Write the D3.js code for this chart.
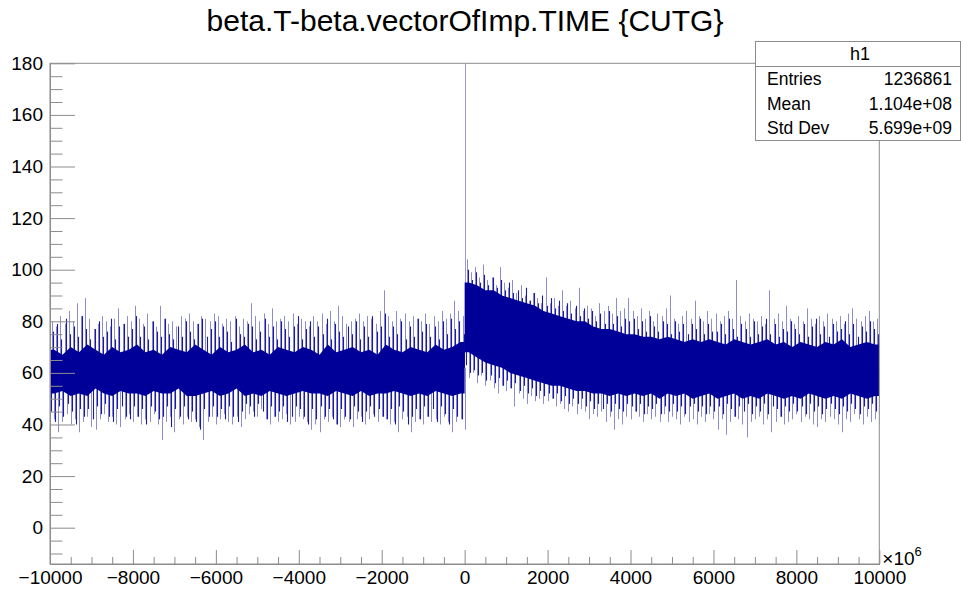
<!DOCTYPE html>
<html>
<head>
<meta charset="utf-8">
<script src="https://cdn.jsdelivr.net/npm/d3@7"></script>
<style>
  html, body { margin: 0; padding: 0; background: #fff; }
  svg { display: block; font-family: "Liberation Sans", Arial, Helvetica, sans-serif; }
</style>
</head>
<body>
<svg id="chart" width="961" height="594"></svg>
<script>
// Histogram h1: beta.T - beta.vectorOfImp.TIME (x in units of 1e6)
const title = "beta.T-beta.vectorOfImp.TIME {CUTG}";
const statsName = "h1";
const statsLabels = ["Entries", "Mean", "Std Dev"];
const statsValues = ["1236861", "1.104e+08", "5.699e+09"];

const xTickLabels = [-10000, -8000, -6000, -4000, -2000, 0, 2000, 4000, 6000, 8000, 10000];
const yTickLabels = [0, 20, 40, 60, 80, 100, 120, 140, 160, 180];

// Largest bin excursions per 100-unit slice (upper and lower)
const peakHi = [
  80,78,82,79,84,80,87,82,89,81, 77,79,82,80,78,81,85,79,82,80,
  86,81,79,83,80,78,86,81,79,80, 78,82,81,83,80,79,82,81,80,83,
  82,79,81,80,82,78,81,80,87,82, 80,83,79,85,80,81,82,80,83,79,
  81,80,78,82,80,83,79,84,80,86, 82,79,80,81,83,80,82,81,79,84,
  92,82,80,84,81,83,80,82,81,80, 83,79,82,80,84,81,83,88,84,82,
  104,99,101,97,102,96,97,94,101,95, 93,96,91,94,90,88,91,89,87,97,
  87,89,86,92,86,88,85,93,84,86, 85,82,87,84,86,83,89,84,85,89,
  84,82,85,81,84,80,83,82,85,90, 81,79,82,84,81,88,82,80,84,81,
  83,80,82,84,81,96,82,80,83,81, 80,82,79,92,81,83,80,86,81,79,
  82,80,85,81,79,82,80,83,81,80, 82,79,83,85,81,80,82,84,80,81
];
const peakLo = [
  42,37,41,44,40,42,37,41,43,39, 38,42,44,41,43,40,39,42,44,41,
  43,40,42,41,44,40,34,41,43,37, 42,40,43,41,42,39,34,41,43,40,
  42,44,41,40,43,39,42,44,45,43, 46,42,40,43,41,42,44,40,41,43,
  42,41,38,40,37,42,41,43,40,39, 42,41,39,42,43,40,42,44,41,43,
  42,40,41,37,42,43,37,41,42,40, 43,41,42,40,43,41,37,41,42,38,
  58,60,56,59,55,57,54,52,55,53, 54,47,52,50,48,51,49,50,48,49,
  50,47,48,46,45,47,44,46,45,42, 44,43,45,41,43,38,42,40,43,42,
  45,43,41,44,42,43,41,44,41,43, 42,40,43,41,42,40,43,41,44,42,
  38,42,36,41,43,42,40,35,41,42, 43,40,42,37,41,43,40,41,42,44,
  41,43,42,40,39,42,41,43,42,40, 37,42,41,44,42,40,43,41,42,40
];

// Typical (frequent) bin excursions per 100-unit slice
const midHi = [
  76,79,73,81,75,78,74,82,77,73, 77,80,74,76,81,73,78,79,74,77,
  82,74,78,73,80,76,74,81,75,73, 78,74,80,76,73,79,81,74,77,80,
  74,78,76,72,81,75,74,79,78,73, 76,81,74,78,73,80,77,74,78,82,
  73,77,80,74,78,75,81,73,79,76, 74,78,75,80,73,78,74,82,76,78,
  83,74,78,75,80,73,78,74,81,76, 79,74,78,73,80,75,81,77,80,75,
  100,96,99,95,98,94,97,93,96,92, 95,91,92,89,93,88,91,87,90,86,
  89,85,88,84,87,83,86,82,85,81, 84,80,83,79,84,79,82,78,81,80,
  81,77,80,76,82,78,76,80,79,75, 80,76,79,75,79,77,81,75,79,76,
  76,79,75,81,77,74,79,77,74,80, 75,78,81,75,79,74,77,76,80,77,
  75,79,74,78,81,75,78,74,79,76, 77,80,75,79,74,78,76,80,77,75
];
const midLo = [
  45,41,47,43,48,45,40,46,43,46, 42,47,44,48,43,41,46,47,43,42,
  47,43,46,40,47,45,42,43,47,39, 46,43,47,42,45,41,38,46,43,47,
  43,46,42,47,43,41,45,48,47,43, 48,45,42,47,43,45,47,41,43,47,
  46,43,40,46,42,47,43,46,42,40, 46,43,42,47,45,41,45,47,43,46,
  43,42,46,40,47,45,40,43,46,42, 47,43,46,41,47,44,40,46,43,42,
  63,60,61,59,60,57,59,56,58,55, 57,54,56,53,55,52,54,51,53,51,
  52,50,52,49,51,48,50,48,50,47, 49,46,48,46,48,45,48,46,45,48,
  47,45,48,44,47,46,48,44,47,45, 48,45,47,44,47,48,45,47,44,47,
  45,47,44,48,46,43,47,45,48,44, 47,45,48,44,47,46,43,47,45,48,
  45,47,44,48,45,47,44,46,48,46, 44,47,45,48,46,44,47,46,48,45
];

// Dense core of the distribution per 200-unit slice
const coreHi = [
  69,67,70,68,71,69,67,70,68,69, 71,68,69,67,70,69,68,71,69,67,
  70,68,69,71,68,69,67,70,69,68, 70,69,67,71,68,69,70,68,69,67,
  71,69,68,70,69,68,71,69,70,72,
  95,94,92,92,90,89,88,87,86,84, 83,82,81,80,80,78,77,77,76,75,
  75,74,74,73,74,73,72,73,72,73, 72,71,73,72,71,72,73,71,72,70,
  72,71,70,72,71,73,70,71,72,71
];
const coreLo = [
  52,53,51,52,51,54,52,51,53,52, 52,51,53,52,52,54,51,51,52,53,
  51,52,54,51,52,51,53,52,51,52, 53,52,52,51,53,52,51,53,51,52,
  52,53,52,51,52,51,53,52,51,52,
  68,66,64,63,62,60,59,58,57,56, 55,55,54,53,53,52,52,51,52,51,
  52,51,52,50,52,51,52,50,51,52, 50,51,52,50,51,50,52,51,50,51,
  50,52,51,50,51,50,52,51,50,51
];

// Single bin at zero offset
const zeroBinX = 0;
const zeroBinCount = 180;

const xDomain = [-10000, 10000];
const yDomain = [-14.07, 180];

const peakStep = (xDomain[1] - xDomain[0]) / peakHi.length;
const coreStep = (xDomain[1] - xDomain[0]) / coreHi.length;
const peakX = peakHi.map((_, i) => xDomain[0] + peakStep * (i + 0.5));
const coreX = coreHi.map((_, i) => xDomain[0] + coreStep * (i + 0.5));

const margin = { left: 50, right: 961 - 879.3, top: 63.3, bottom: 594 - 564 };
const svg = d3.select("#chart");
const W = 961, H = 594;
const x = d3.scaleLinear().domain(xDomain).range([margin.left, W - margin.right]);
const y = d3.scaleLinear().domain(yDomain).range([H - margin.bottom, margin.top]);

const lineColor = "#000099";
const axisColor = "#8c8c8c";

svg.append("defs").append("clipPath").attr("id", "plotClip")
  .append("rect")
  .attr("x", x.range()[0]).attr("y", y.range()[1])
  .attr("width", x.range()[1] - x.range()[0])
  .attr("height", y.range()[0] - y.range()[1]);

const plot = svg.append("g").attr("clip-path", "url(#plotClip)");

// core centre used as the base of each excursion line
const coreMid = xv => {
  const i = Math.min(coreX.length - 1, Math.max(0, Math.floor((xv - xDomain[0]) / coreStep)));
  return (coreHi[i] + coreLo[i]) / 2;
};
const px = v => Math.round(x(v)) + 0.5;

// draws one family of vertical excursion lines
function excursions(values, offset, opacity, width) {
  plot.append("g")
    .attr("stroke", lineColor)
    .attr("stroke-opacity", opacity)
    .attr("stroke-width", width)
    .selectAll("line").data(peakX).join("line")
    .attr("x1", d => px(d + offset)).attr("x2", d => px(d + offset))
    .attr("y1", d => y(coreMid(d)))
    .attr("y2", (d, i) => y(values[i]));
}
excursions(peakHi, 0, 0.45, 1);
excursions(peakLo, peakStep / 2, 0.45, 1);
excursions(midHi, peakStep / 4, 0.9, 1.1);
excursions(midLo, -peakStep / 4, 0.9, 1.1);

// dense core band, split at the zero offset
const coreArea = d3.area()
  .x(d => x(d.x)).y0(d => y(d.lo)).y1(d => y(d.hi))
  .curve(d3.curveLinear);
const coreRows = coreX.map((xv, i) => ({ x: xv, hi: coreHi[i], lo: coreLo[i] }));
const leftRows = coreRows.filter(d => d.x < 0);
const rightRows = coreRows.filter(d => d.x > 0);
leftRows.unshift({ x: xDomain[0], hi: leftRows[0].hi, lo: leftRows[0].lo });
leftRows.push({ x: 0, hi: leftRows[leftRows.length - 1].hi, lo: leftRows[leftRows.length - 1].lo });
rightRows.unshift({ x: 0, hi: rightRows[0].hi, lo: rightRows[0].lo });
rightRows.push({ x: xDomain[1], hi: rightRows[rightRows.length - 1].hi, lo: rightRows[rightRows.length - 1].lo });
plot.append("path").datum(leftRows).attr("d", coreArea).attr("fill", lineColor);
plot.append("path").datum(rightRows).attr("d", coreArea).attr("fill", lineColor);

// zero bin
plot.append("line")
  .attr("x1", px(zeroBinX)).attr("x2", px(zeroBinX))
  .attr("y1", y(rightRows[0].hi)).attr("y2", y(zeroBinCount))
  .attr("stroke", lineColor).attr("stroke-opacity", 0.4).attr("stroke-width", 1);

// frame
svg.append("rect")
  .attr("x", x.range()[0]).attr("y", y.range()[1])
  .attr("width", x.range()[1] - x.range()[0])
  .attr("height", y.range()[0] - y.range()[1])
  .attr("fill", "none").attr("stroke", axisColor).attr("stroke-width", 1);

// y axis: major every 20, minor every 5
const yMinor = d3.range(-10, 181, 5).filter(v => v % 20 !== 0);
const yAxisMinor = d3.axisLeft(y).tickValues(yMinor).tickSizeInner(-12.5).tickSizeOuter(0).tickFormat("");
const yAxisMajor = d3.axisLeft(y).tickValues(yTickLabels).tickSizeInner(-25).tickSizeOuter(0).tickPadding(7).tickFormat(d3.format("d"));
const gyMin = svg.append("g").attr("transform", `translate(${x.range()[0]},0)`).call(yAxisMinor);
const gy = svg.append("g").attr("transform", `translate(${x.range()[0]},0)`).call(yAxisMajor);

// x axis: major every 2000, minor every 500
const xMinor = d3.range(-9500, 10000, 500).filter(v => v % 2000 !== 0);
const xAxisMinor = d3.axisBottom(x).tickValues(xMinor).tickSizeInner(-7).tickSizeOuter(0).tickFormat("");
const xAxisMajor = d3.axisBottom(x).tickValues(xTickLabels).tickSizeInner(-14).tickSizeOuter(0).tickPadding(7).tickFormat(d3.format("d"));
const gxMin = svg.append("g").attr("transform", `translate(0,${y.range()[0]})`).call(xAxisMinor);
const gx = svg.append("g").attr("transform", `translate(0,${y.range()[0]})`).call(xAxisMajor);

[gyMin, gy, gxMin, gx].forEach(g => {
  g.selectAll(".domain").attr("stroke", axisColor);
  g.selectAll(".tick line").attr("stroke", axisColor);
  g.selectAll("text").attr("fill", "#000").style("font-size", "19px")
    .style("font-family", "'Liberation Sans', Arial, sans-serif");
});

// exponent marker on x axis
const expo = svg.append("text")
  .attr("x", x.range()[1] + 3).attr("y", y.range()[0] + 0.5)
  .style("font-size", "19px").attr("fill", "#000");
expo.append("tspan").text("\u00d710");
expo.append("tspan").attr("dy", -9).style("font-size", "13px").text("6");

// title
svg.append("text")
  .attr("x", 465).attr("y", 31)
  .attr("text-anchor", "middle")
  .style("font-size", "30px").attr("fill", "#000")
  .text(title);

// statistics box
const box = { x0: 755.5, y0: 41.5, x1: 960.5, y1: 140.5, sep: 66.5 };
const stats = svg.append("g");
stats.append("rect")
  .attr("x", box.x0).attr("y", box.y0)
  .attr("width", box.x1 - box.x0).attr("height", box.y1 - box.y0)
  .attr("fill", "#fff").attr("stroke", axisColor);
stats.append("line")
  .attr("x1", box.x0).attr("x2", box.x1).attr("y1", box.sep).attr("y2", box.sep)
  .attr("stroke", axisColor);
stats.append("text")
  .attr("x", (box.x0 + box.x1) / 2 + 2).attr("y", 54).attr("dy", "0.35em")
  .attr("text-anchor", "middle").style("font-size", "18px").text(statsName);
const rowY = d3.scaleBand().domain(statsLabels).range([box.sep, box.y1]);
stats.selectAll("text.lab").data(statsLabels).join("text")
  .attr("class", "lab")
  .attr("x", 767).attr("y", d => rowY(d) + rowY.bandwidth() / 2).attr("dy", "0.35em")
  .style("font-size", "17.5px").text(d => d);
stats.selectAll("text.val").data(statsValues).join("text")
  .attr("class", "val")
  .attr("x", 952).attr("y", (d, i) => rowY(statsLabels[i]) + rowY.bandwidth() / 2).attr("dy", "0.35em")
  .attr("text-anchor", "end")
  .style("font-size", "17.5px").text(d => d);
</script>
</body>
</html>
